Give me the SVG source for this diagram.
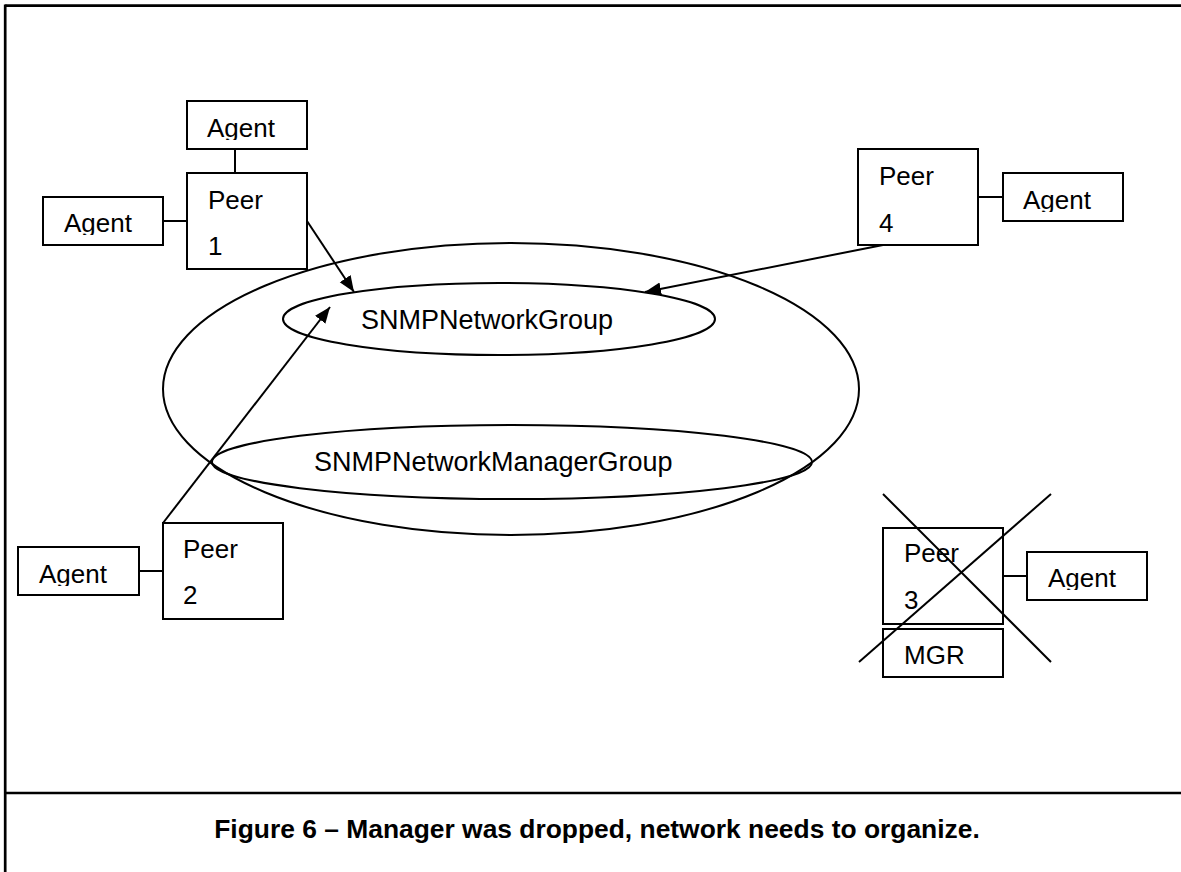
<svg xmlns="http://www.w3.org/2000/svg" width="1181" height="872" viewBox="0 0 1181 872">
  <style>
    .box { fill: #ffffff; stroke: #000000; stroke-width: 2; }
    .ell { fill: none; stroke: #000000; stroke-width: 2; }
    .frame { fill: none; stroke: #000000; stroke-width: 2.7; }
    .wire { fill: none; stroke: #000000; stroke-width: 2; }
    .arrow { fill: none; stroke: #000000; stroke-width: 2; marker-end: url(#head); }
    .lbl { font-family: "Liberation Sans", Arial, sans-serif; font-size: 26px; fill: #000000; }
    .grp { font-family: "Liberation Sans", Arial, sans-serif; font-size: 27px; fill: #000000; }
    .cap { font-family: "Liberation Sans", Arial, sans-serif; font-size: 26.4px; font-weight: bold; fill: #000000; }
  </style>
  <defs>
    <marker id="head" markerUnits="userSpaceOnUse" markerWidth="18" markerHeight="14" refX="16" refY="6.5" orient="auto">
      <path d="M0,0 L16,6.5 L0,13 Z" fill="#000000"/>
    </marker>
    <!-- agent labels sit in text boxes that cut the descender just below the baseline -->
    <clipPath id="clipA1"><rect x="190" y="100" width="115" height="40"/></clipPath>
    <clipPath id="clipA2"><rect x="45" y="196" width="115" height="39"/></clipPath>
    <clipPath id="clipA3"><rect x="20" y="546" width="115" height="40"/></clipPath>
    <clipPath id="clipA4"><rect x="1005" y="172" width="115" height="40"/></clipPath>
    <clipPath id="clipA5"><rect x="1029" y="551" width="115" height="39"/></clipPath>
  </defs>

  <rect width="1181" height="872" fill="#ffffff"/>

  <!-- page frame and caption separator -->
  <g id="frame">
    <line class="frame" x1="5.2" y1="5.7" x2="1181" y2="5.7"/>
    <line class="frame" x1="5.2" y1="4.5" x2="5.2" y2="872"/>
    <line class="frame" x1="5.2" y1="793" x2="1181" y2="793"/>
  </g>

  <!-- group ellipses -->
  <g id="network">
    <ellipse class="ell" cx="511" cy="389" rx="348" ry="146"/>
  </g>
  <g id="snmp-network-group">
    <ellipse class="ell" cx="499" cy="319" rx="216" ry="36"/>
    <text class="grp" x="361" y="329">SNMPNetworkGroup</text>
  </g>
  <g id="snmp-network-manager-group">
    <ellipse class="ell" cx="512" cy="462" rx="300" ry="37"/>
    <text class="grp" x="314" y="471">SNMPNetworkManagerGroup</text>
  </g>

  <!-- connectors -->
  <g id="connectors">
    <line class="wire" x1="235" y1="149" x2="235" y2="173"/>
    <line class="wire" x1="163" y1="221" x2="187" y2="221"/>
    <line class="wire" x1="139" y1="571" x2="163" y2="571"/>
    <line class="wire" x1="978" y1="197" x2="1003" y2="197"/>
    <line class="wire" x1="1003" y1="576" x2="1027" y2="576"/>
    <line class="arrow" x1="307" y1="221" x2="354" y2="292"/>
    <line class="arrow" x1="163" y1="523" x2="330" y2="307"/>
    <line class="arrow" x1="883" y1="245" x2="645" y2="292"/>
  </g>

  <!-- peer 1 with its agents -->
  <g id="agent-1-top">
    <rect class="box" x="187" y="101" width="120" height="48"/>
    <text class="lbl" x="207" y="137" clip-path="url(#clipA1)">Agent</text>
  </g>
  <g id="agent-1-left">
    <rect class="box" x="43" y="197" width="120" height="48"/>
    <text class="lbl" x="64" y="232" clip-path="url(#clipA2)">Agent</text>
  </g>
  <g id="peer-1">
    <rect class="box" x="187" y="173" width="120" height="96"/>
    <text class="lbl" x="208" y="209">Peer</text>
    <text class="lbl" x="208" y="255">1</text>
  </g>

  <!-- peer 4 with its agent -->
  <g id="peer-4">
    <rect class="box" x="858" y="149" width="120" height="96"/>
    <text class="lbl" x="879" y="185">Peer</text>
    <text class="lbl" x="879" y="232">4</text>
  </g>
  <g id="agent-4">
    <rect class="box" x="1003" y="173" width="120" height="48"/>
    <text class="lbl" x="1023" y="209" clip-path="url(#clipA4)">Agent</text>
  </g>

  <!-- peer 2 with its agent -->
  <g id="agent-2">
    <rect class="box" x="18" y="547" width="121" height="48"/>
    <text class="lbl" x="39" y="583" clip-path="url(#clipA3)">Agent</text>
  </g>
  <g id="peer-2">
    <rect class="box" x="163" y="523" width="120" height="96"/>
    <text class="lbl" x="183" y="558">Peer</text>
    <text class="lbl" x="183" y="604">2</text>
  </g>

  <!-- peer 3, its agent and the dropped manager, crossed out -->
  <g id="peer-3">
    <rect class="box" x="883" y="528" width="120" height="96"/>
    <text class="lbl" x="904" y="562">Peer</text>
    <text class="lbl" x="904" y="609">3</text>
  </g>
  <g id="mgr">
    <rect class="box" x="883" y="629" width="120" height="48"/>
    <text class="lbl" x="904" y="664">MGR</text>
  </g>
  <g id="agent-3">
    <rect class="box" x="1027" y="552" width="120" height="48"/>
    <text class="lbl" x="1048" y="587" clip-path="url(#clipA5)">Agent</text>
  </g>
  <g id="cross">
    <line class="wire" x1="883" y1="494" x2="1051" y2="662"/>
    <line class="wire" x1="1051" y1="494" x2="859" y2="662"/>
  </g>

  <g id="caption">
    <text class="cap" x="597" y="838" text-anchor="middle">Figure 6 – Manager was dropped, network needs to organize.</text>
  </g>
</svg>
